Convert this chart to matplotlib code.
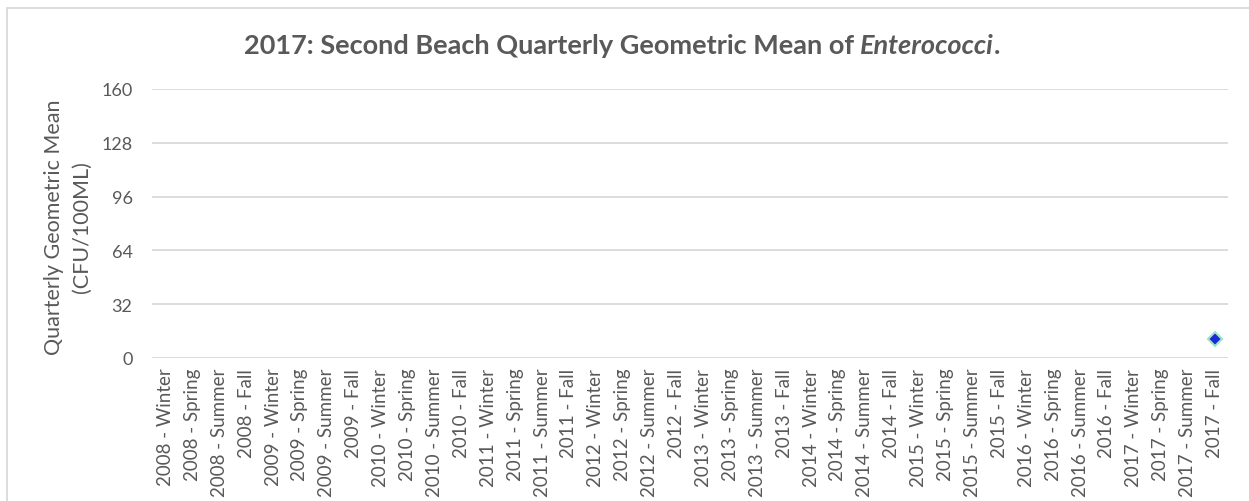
import matplotlib
matplotlib.use('Agg')
import matplotlib.pyplot as plt
import numpy as np
from matplotlib.patches import Rectangle

plt.rcParams['font.family'] = ['Lato', 'DejaVu Sans']

years = list(range(2008, 2018))
seasons = ['Winter', 'Spring', 'Summer', 'Fall']
quarters = ['%d - %s' % (y, s) for y in years for s in seasons]
# only the last quarter has a sample
geo_mean = [np.nan] * (len(quarters) - 1) + [11]
yticks = [0, 32, 64, 96, 128, 160]

grey = '#595959'

fig = plt.figure(figsize=(12.49, 5.02), dpi=100)
ax = fig.add_axes([0.1217, 0.2849, 0.8615, 0.5359])

x = np.arange(len(quarters))
ax.plot(x, geo_mean, ls='none', marker='D', ms=7.5,
        mfc='#1a2bd6', mec='#9ee3c8', mew=1.5, zorder=3)

ax.set_xlim(-0.5, len(quarters) - 0.5)
ax.set_ylim(0, 160)
ax.set_yticks(yticks)
ax.set_xticks(x)
ax.set_xticklabels(quarters, rotation=90, fontsize=13.5, color=grey)
ax.tick_params(axis='y', labelsize=13, colors=grey, length=0, pad=14)
ax.tick_params(axis='x', length=0, pad=7)
ax.grid(axis='y', color='#d9d9d9', lw=1.3)
ax.set_axisbelow(True)
for s in ax.spines.values():
    s.set_visible(False)

ax.set_ylabel('Quarterly Geometric Mean\n(CFU/100ML)', fontsize=15.5,
              color=grey, linespacing=1.5)
ax.yaxis.set_label_coords(-0.056, 0.49)

# title: plain bold part followed by bold italic genus name
renderer = fig.canvas.get_renderer()
ty = 0.908
t1 = fig.text(0, ty, '2017: Second Beach Quarterly Geometric Mean of ',
              fontsize=19.5, fontweight='bold', color=grey, va='center')
t2 = fig.text(0, ty, 'Enterococci', fontsize=19.5, fontweight='bold',
              style='italic', color=grey, va='center')
t3 = fig.text(0, ty, '.', fontsize=19.5, fontweight='bold', color=grey,
              va='center')
w1 = t1.get_window_extent(renderer).width
w2 = t2.get_window_extent(renderer).width
w3 = t3.get_window_extent(renderer).width
x0 = 622 - (w1 + w2 + w3) / 2
W = fig.bbox.width
t1.set_x(x0 / W)
t2.set_x((x0 + w1) / W)
t3.set_x((x0 + w1 + w2) / W)

# chart frame, only its top and left edges fall inside the image
fig.patches.append(Rectangle((7 / 1249, -0.05), 1.1, 0.05 + 493 / 502,
                             transform=fig.transFigure, fill=False,
                             ec='#d9d9d9', lw=1.3))

fig.savefig('out.png', dpi=100)
